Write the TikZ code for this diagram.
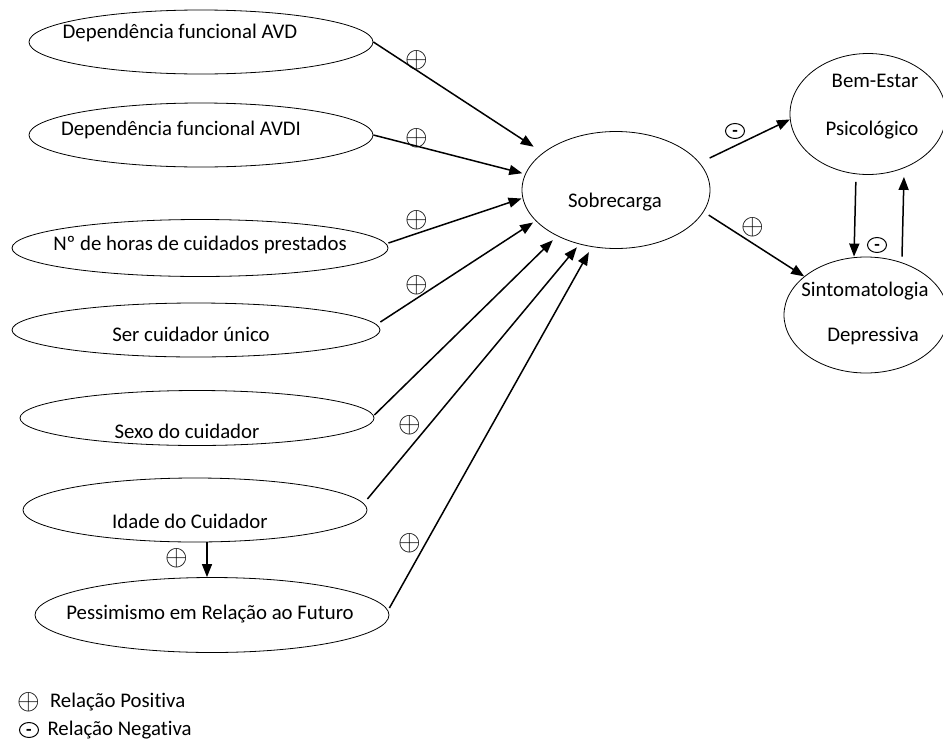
\documentclass[tikz,border=0pt]{standalone}
\usepackage{graphicx}
\usepackage{fontspec}
\setmainfont{Carlito}[Ligatures={NoCommon}]
\usetikzlibrary{shapes.geometric,positioning,arrows.meta}

\begin{document}
\begin{tikzpicture}[%
    x=1pt, y=-1pt,
    every node/.style={
        font=\fontsize{20.8}{24}\selectfont,
        text height=2.75ex,
        text depth=.25ex,
    },
    var/.style={draw, ellipse, inner sep=0pt, line width=0.8pt},
    arr/.style={-{Triangle[length=13pt,width=10pt]}, line width=1.5pt},
    plus/.style={inner sep=0pt, text height=, text depth=},
    minus/.style={draw, ellipse, inner sep=0pt, minimum width=19pt, minimum height=15pt,
        line width=1pt, font=\bfseries\fontsize{18}{20}\selectfont,
        text height=1em, text depth=0pt},
]

\useasboundingbox (0,0) rectangle (943,742);

% draw the ellipses
\node[var, minimum width=344pt, minimum height=64pt] (avd) at (201,42) {};
\node[var, minimum width=344pt, minimum height=64pt] (avdi) at (201,135) {};
\node[var, minimum width=376pt, minimum height=57pt] (horas) at (200,248) {};
\node[var, minimum width=368pt, minimum height=54pt] (ser) at (196,330) {};
\node[var, minimum width=354pt, minimum height=55pt] (sexo) at (197,418) {};
\node[var, minimum width=344pt, minimum height=64pt] (idade) at (195,510) {};
\node[var, minimum width=354pt, minimum height=75pt] (pess) at (212,615) {};
\node[var, minimum width=188pt, minimum height=117pt] (sob) at (616,190) {};
\node[var, minimum width=156pt, minimum height=121pt] (bem) at (868,114) {};
\node[var, minimum width=164pt, minimum height=116pt] (sint) at (866,315) {};

% place the texts
\node (avdT) at (180,33) {Dependência funcional AVD};
\node (avdiT) at (181,130) {Dependência funcional AVDI};
\node (horasT) at (200,245) {Nº de horas de cuidados prestados};
\node (serT) at (191,336) {Ser cuidador único};
\node (sexoT) at (187,433) {Sexo do cuidador};
\node (idadeT) at (190,523) {Idade do Cuidador};
\node (pessT) at (210,614) {Pessimismo em Relação ao Futuro};
\node (sobT) at (615,202) {Sobrecarga};
\node (bemT) at (875,82) {Bem-Estar};
\node (bemTT) at (872,130) {Psicológico};
\node (sintT) at (865,291) {Sintomatologia};
\node (sintTT) at (873,336) {Depressiva};

% draw arrows into Sobrecarga
\draw[arr, shorten >=11pt] (avd.east) -- (sob.153);
\draw[arr, shorten >=3pt] (avdi.east) -- (sob.170);
\draw[arr, shorten >=1pt] ([yshift=5pt]horas.east) -- (sob.185);
\draw[arr, shorten >=3pt] ([yshift=8pt]ser.east) -- (sob.201);
\draw[arr, shorten >=6pt] ([yshift=3pt]sexo.east) -- (sob.218);
\draw[arr, shorten >=4pt] ([yshift=11pt]idade.east) -- (sob.236);
\draw[arr, shorten >=6pt] ([yshift=7pt]pess.east) -- (sob.247);
\draw[arr] (idade.south -| 207,0) -- (pess.north -| 207,0);

% draw arrows out of Sobrecarga
\draw[arr, shorten <=11pt] (sob.18) -- (bem.184);
\draw[arr, shorten <=6pt] (sob.-14) -- (sint.148);
\draw[arr, shorten <=7pt] ([xshift=-12pt]bem.south) -- ([xshift=-12pt]sint.north);
\draw[arr, shorten >=2pt] ([xshift=36pt]sint.north) -- ([xshift=36pt]bem.south);

% place signs
\foreach \n/\px/\py in {p1/417/60, p2/417/138, p3/417/220, p4/417/285,
                        p5/410/425, p6/410/543, p7/177/558, p8/753/227}{
    \node[plus] (\n) at (\px,\py) {\scalebox{1.4}{$\oplus$}};
}
\node[minus] (m1) at (735,131) {-};
\node[minus] (m2) at (877,245) {-};

% legend
\node[plus] (lp) at (29,702) {\scalebox{1.4}{$\oplus$}};
\node[right=6pt of lp] (lpT) {Relação Positiva};
\node[minus] (ln) at (29,730) {-};
\node[right=5pt of ln] (lnT) {Relação Negativa};

\end{tikzpicture}
\end{document}
